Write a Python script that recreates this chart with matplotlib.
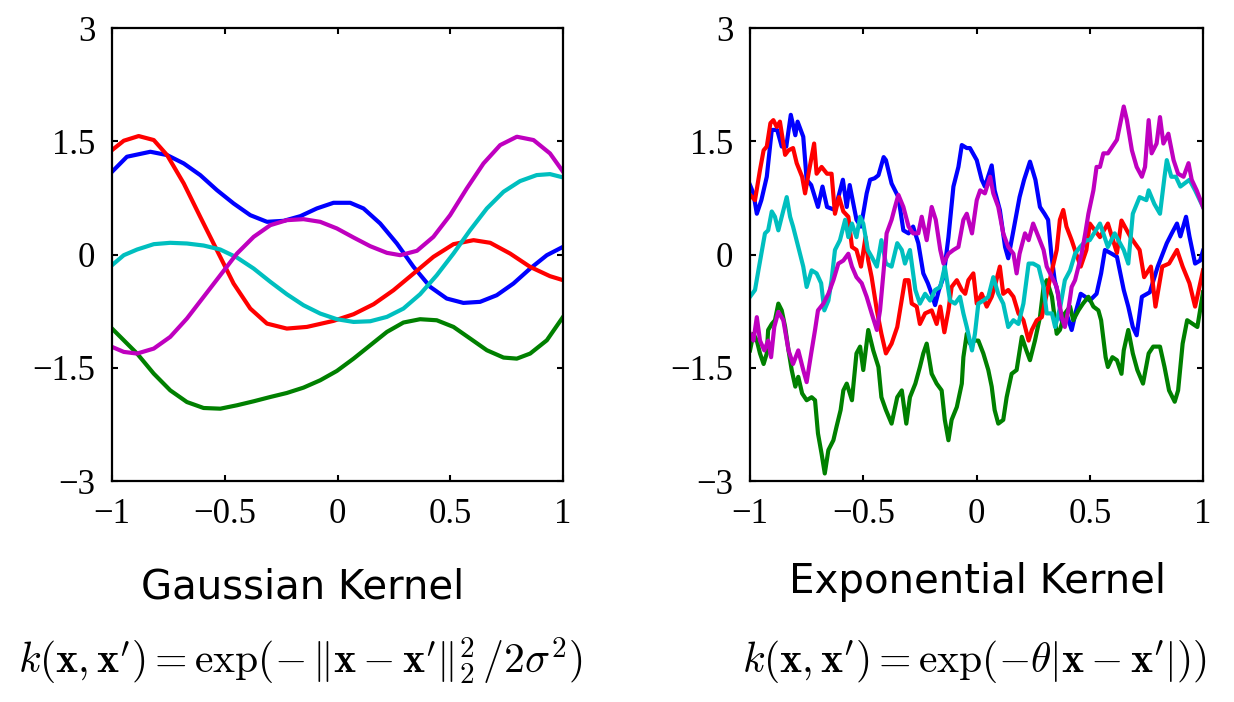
import numpy as np
import matplotlib.pyplot as plt

plt.rcParams['mathtext.fontset'] = 'cm'

# ---- Gaussian kernel samples (left panel) ----
g_red_x = [-1.0, -0.948, -0.882, -0.815, -0.756, -0.682, -0.609, -0.535, -0.461, -0.387, -0.313, -0.225,
           -0.136, -0.018, 0.071, 0.160, 0.248, 0.337, 0.425, 0.514, 0.603, 0.677, 0.765, 0.854, 0.942, 1.0]
g_red_y = [1.383, 1.507, 1.569, 1.516, 1.317, 0.941, 0.499, 0.057, -0.385, -0.716, -0.915, -0.981,
           -0.959, -0.879, -0.791, -0.658, -0.473, -0.252, -0.031, 0.137, 0.190, 0.155, 0.013, -0.164, -0.287, -0.340]

g_blue_x = [-1.0, -0.934, -0.830, -0.756, -0.682, -0.609, -0.535, -0.461, -0.387, -0.313, -0.239, -0.165, -0.092, -0.018,
            0.056, 0.115, 0.189, 0.263, 0.337, 0.411, 0.484, 0.558, 0.632, 0.706, 0.780, 0.854, 0.928, 1.0]
g_blue_y = [1.096, 1.295, 1.361, 1.317, 1.206, 1.052, 0.853, 0.676, 0.521, 0.433, 0.446, 0.508, 0.610, 0.685,
            0.685, 0.610, 0.411, 0.146, -0.164, -0.429, -0.583, -0.641, -0.627, -0.539, -0.384, -0.186, -0.009, 0.102]

g_cyan_x = [-1.0, -0.948, -0.889, -0.815, -0.742, -0.668, -0.594, -0.520, -0.446, -0.372, -0.298, -0.225, -0.151, -0.077,
            -0.003, 0.071, 0.145, 0.219, 0.292, 0.366, 0.440, 0.514, 0.588, 0.662, 0.736, 0.809, 0.883, 0.942, 1.0]
g_cyan_y = [-0.141, -0.009, 0.066, 0.137, 0.155, 0.146, 0.119, 0.066, -0.040, -0.186, -0.362, -0.526, -0.672, -0.782,
            -0.857, -0.893, -0.884, -0.826, -0.716, -0.526, -0.274, 0.013, 0.323, 0.610, 0.831, 0.972, 1.052, 1.065, 1.021]

g_mag_x = [-1.0, -0.948, -0.889, -0.815, -0.742, -0.668, -0.594, -0.520, -0.446, -0.372, -0.298, -0.225, -0.151, -0.077,
           -0.003, 0.071, 0.145, 0.219, 0.278, 0.352, 0.425, 0.499, 0.573, 0.647, 0.721, 0.795, 0.869, 0.942, 1.0]
g_mag_y = [-1.224, -1.290, -1.312, -1.246, -1.091, -0.848, -0.561, -0.274, 0.013, 0.234, 0.389, 0.455, 0.468, 0.433,
           0.345, 0.225, 0.110, 0.022, -0.009, 0.049, 0.234, 0.521, 0.875, 1.206, 1.449, 1.560, 1.516, 1.339, 1.096]

g_green_x = [-1.0, -0.948, -0.889, -0.815, -0.742, -0.668, -0.594, -0.520, -0.446, -0.372, -0.298, -0.225, -0.151, -0.077,
             -0.003, 0.071, 0.145, 0.219, 0.292, 0.366, 0.440, 0.514, 0.588, 0.662, 0.736, 0.795, 0.854, 0.928, 1.0]
g_green_y = [-0.981, -1.136, -1.312, -1.578, -1.799, -1.954, -2.033, -2.042, -1.997, -1.944, -1.887, -1.834, -1.763, -1.666,
             -1.542, -1.379, -1.202, -1.025, -0.901, -0.857, -0.871, -0.959, -1.113, -1.268, -1.365, -1.379, -1.312, -1.136, -0.826]

# ---- Exponential kernel samples (right panel) ----
e_blue_x = [-1, -0.985, -0.97, -0.95, -0.926, -0.904, -0.88, -0.86, -0.84, -0.82, -0.80, -0.79, -0.765, -0.75, -0.73,
            -0.70, -0.68, -0.66, -0.625, -0.59, -0.573, -0.56, -0.53, -0.51, -0.485, -0.47, -0.45, -0.433, -0.41, -0.40,
            -0.375, -0.345, -0.323, -0.30, -0.28, -0.257, -0.235, -0.215, -0.198, -0.183, -0.166, -0.146, -0.124, -0.102,
            -0.08, -0.065, -0.043, -0.029, 0.001, 0.023, 0.037, 0.067, 0.08, 0.103, 0.126, 0.14, 0.163, 0.19, 0.21, 0.236,
            0.26, 0.28, 0.30, 0.316, 0.33, 0.345, 0.36, 0.375, 0.397, 0.42, 0.44, 0.46, 0.48, 0.50, 0.53, 0.55, 0.567,
            0.597, 0.62, 0.65, 0.67, 0.69, 0.707, 0.73, 0.765, 0.80, 0.84, 0.862, 0.885, 0.90, 0.925, 0.94, 0.965, 0.987, 1.0]
e_blue_y = [0.92, 0.81, 0.54, 0.72, 1.03, 1.65, 1.65, 1.43, 1.43, 1.85, 1.58, 1.76, 1.56, 0.99, 0.92,
            0.63, 0.90, 0.63, 0.59, 0.99, 0.63, 0.92, 0.46, 0.37, 0.81, 0.99, 1.01, 1.05, 1.29, 1.25,
            0.94, 0.76, 0.32, 0.28, 0.37, 0.15, -0.25, -0.38, -0.52, -0.67, -0.47, -0.30, 0.23, 0.90,
            1.16, 1.45, 1.41, 1.41, 1.25, 0.99, 0.90, 1.18, 0.85, 0.59, 0.10, -0.05, 0.32, 0.76, 0.99, 1.23,
            0.99, 0.63, 0.54, 0.46, 0.01, -0.34, -0.52, -0.87, -0.78, -1.0, -0.74, -0.52, -0.56, -0.61, -0.52, -0.25, 0.06,
            0.01, -0.03, -0.47, -0.69, -0.96, -1.07, -0.56, -0.50, -0.16, 0.15, 0.28, 0.41, 0.24, 0.50, 0.24, -0.12, -0.08, 0.05]

e_red_x = [-1, -0.978, -0.956, -0.94, -0.926, -0.91, -0.897, -0.882, -0.868, -0.845, -0.83, -0.81, -0.794, -0.77, -0.757,
           -0.74, -0.717, -0.706, -0.684, -0.66, -0.64, -0.625, -0.607, -0.588, -0.566, -0.55, -0.53, -0.51, -0.49, -0.478,
           -0.463, -0.44, -0.42, -0.40, -0.375, -0.35, -0.333, -0.316, -0.30, -0.286, -0.264, -0.25, -0.227, -0.198, -0.176,
           -0.16, -0.142, -0.124, -0.11, -0.087, -0.065, -0.05, -0.036, -0.014, 0.001, 0.023, 0.045, 0.067, 0.08, 0.103,
           0.118, 0.14, 0.163, 0.185, 0.207, 0.23, 0.244, 0.266, 0.288, 0.31, 0.33, 0.354, 0.368, 0.383, 0.397, 0.42, 0.44,
           0.46, 0.485, 0.50, 0.545, 0.58, 0.62, 0.64, 0.68, 0.72, 0.74, 0.77, 0.79, 0.82, 0.85, 0.885, 0.91, 0.94, 0.965, 1.0]
e_red_y = [0.79, 0.72, 1.12, 1.38, 1.43, 1.74, 1.78, 1.69, 1.76, 1.32, 1.38, 1.41, 1.21, 1.03, 0.81,
           1.10, 1.47, 1.07, 1.16, 1.07, 1.07, 0.54, 0.76, 0.57, 0.50, 0.10, 0.06, -0.16, 0.23, -0.08,
           -0.30, -0.74, -1.05, -1.31, -1.18, -0.96, -0.65, -0.34, -0.34, -0.65, -0.69, -0.92, -0.78, -0.74, -0.92,
           -0.69, -1.03, -0.74, -0.43, -0.34, -0.47, -0.52, -0.34, -0.25, -0.65, -0.52, -0.69, -0.56, -0.43, -0.16,
           -0.52, -0.47, -0.56, -0.78, -0.87, -1.14, -1.0, -0.87, -0.83, -0.52, -0.25, 0.06, 0.46, 0.59, 0.37, 0.19, 0.01,
           -0.16, 0.06, 0.41, 0.23, 0.41, 0.02, 0.45, 0.23, 0.06, -0.30, -0.16, -0.69, -0.16, -0.12, 0.06, -0.16, -0.38, -0.69, -0.21]

e_cyan_x = [-1, -0.978, -0.963, -0.95, -0.934, -0.92, -0.904, -0.89, -0.875, -0.86, -0.838, -0.823, -0.81, -0.787, -0.765,
            -0.75, -0.728, -0.706, -0.686, -0.672, -0.654, -0.64, -0.625, -0.603, -0.58, -0.566, -0.55, -0.53, -0.514, -0.50,
            -0.48, -0.463, -0.44, -0.42, -0.40, -0.375, -0.35, -0.33, -0.316, -0.294, -0.27, -0.25, -0.227, -0.205, -0.183,
            -0.16, -0.14, -0.117, -0.095, -0.073, -0.058, -0.043, -0.02, -0.007, 0.008, 0.03, 0.052, 0.074, 0.096, 0.118,
            0.14, 0.163, 0.185, 0.207, 0.23, 0.25, 0.274, 0.296, 0.31, 0.333, 0.347, 0.37, 0.39, 0.413, 0.435, 0.457, 0.485,
            0.50, 0.545, 0.58, 0.61, 0.65, 0.67, 0.69, 0.72, 0.75, 0.76, 0.785, 0.81, 0.83, 0.84, 0.86, 0.88, 0.90, 0.94, 0.965, 1.0]
e_cyan_y = [-0.56, -0.47, -0.21, 0.01, 0.28, 0.32, 0.57, 0.50, 0.32, 0.50, 0.76, 0.50, 0.37, 0.10, -0.16,
            -0.43, -0.21, -0.25, -0.38, -0.74, -0.61, -0.34, 0.06, 0.19, 0.46, 0.23, 0.41, 0.23, 0.50, 0.41,
            0.06, -0.03, -0.16, 0.19, -0.12, -0.16, 0.15, 0.06, -0.12, 0.06, -0.47, -0.65, -0.52, -0.61, -0.47,
            -0.43, -0.16, -0.61, -0.65, -0.56, -0.78, -0.96, -1.27, -1.05, -0.65, -0.61, -0.56, -0.30, -0.52, -0.65,
            -0.96, -0.87, -0.92, -0.65, -0.12, -0.12, -0.16, -0.43, -0.78, -0.78, -0.96, -0.69, -0.34, -0.21, 0.01, 0.10, 0.19,
            0.19, 0.41, 0.10, 0.28, 0.06, -0.12, 0.54, 0.76, 0.72, 0.85, 0.67, 0.54, 1.03, 1.25, 1.03, 1.03, 0.90, 0.99, 0.85, 0.63]

e_mag_x = [-1, -0.985, -0.97, -0.956, -0.937, -0.92, -0.907, -0.893, -0.875, -0.853, -0.83, -0.81, -0.787, -0.765, -0.75,
           -0.73, -0.713, -0.70, -0.676, -0.654, -0.632, -0.61, -0.588, -0.566, -0.55, -0.53, -0.507, -0.485, -0.463, -0.44,
           -0.426, -0.41, -0.397, -0.375, -0.36, -0.345, -0.323, -0.30, -0.28, -0.257, -0.242, -0.22, -0.198, -0.18, -0.16,
           -0.146, -0.124, -0.102, -0.08, -0.058, -0.043, -0.02, 0.001, 0.016, 0.037, 0.06, 0.074, 0.096, 0.118, 0.14,
           0.163, 0.177, 0.19, 0.214, 0.23, 0.25, 0.274, 0.296, 0.31, 0.333, 0.354, 0.376, 0.39, 0.405, 0.42, 0.435, 0.45,
           0.464, 0.48, 0.494, 0.516, 0.53, 0.545, 0.56, 0.58, 0.60, 0.62, 0.635, 0.65, 0.664, 0.686, 0.707, 0.73, 0.744,
           0.76, 0.773, 0.795, 0.81, 0.825, 0.847, 0.87, 0.89, 0.914, 0.936, 0.95, 0.972, 1.0]
e_mag_y = [-1.05, -1.14, -0.83, -1.14, -1.27, -1.14, -1.36, -0.96, -0.76, -0.87, -1.27, -1.45, -1.27, -1.53, -1.69,
           -1.31, -1.0, -0.74, -0.65, -0.52, -0.34, -0.12, -0.08, 0.01, -0.16, -0.30, -0.38, -0.56, -0.78, -1.0,
           -0.74, -0.21, 0.28, 0.46, 0.63, 0.79, 0.63, 0.37, 0.28, 0.28, 0.50, 0.19, 0.63, 0.46, 0.06,
           -0.12, 0.01, 0.06, 0.10, 0.46, 0.54, 0.28, 0.72, 0.85, 0.81, 1.03, 0.81, 0.63, 0.28, 0.10,
           0.01, -0.25, 0.01, 0.28, 0.19, 0.41, 0.23, 0.06, -0.16, -0.30, -0.43, -0.83, -0.96, -0.74, -0.43, -0.34, -0.16,
           0.01, 0.28, 0.54, 0.85, 1.16, 1.16, 1.34, 1.34, 1.43, 1.52, 1.74, 1.96, 1.78, 1.38, 1.16, 1.03, 1.16,
           1.78, 1.34, 1.47, 1.82, 1.47, 1.60, 1.25, 1.07, 1.03, 1.21, 0.99, 0.85, 0.63]

e_green_x = [-1, -0.985, -0.97, -0.956, -0.94, -0.926, -0.92, -0.904, -0.89, -0.875, -0.86, -0.845, -0.83, -0.816, -0.80,
             -0.787, -0.77, -0.75, -0.728, -0.713, -0.70, -0.684, -0.67, -0.654, -0.632, -0.618, -0.60, -0.588, -0.573, -0.55,
             -0.53, -0.514, -0.50, -0.478, -0.456, -0.433, -0.42, -0.40, -0.375, -0.35, -0.33, -0.31, -0.294, -0.27, -0.25,
             -0.235, -0.22, -0.198, -0.176, -0.154, -0.14, -0.124, -0.11, -0.087, -0.065, -0.058, -0.043, -0.029, -0.007,
             0.008, 0.03, 0.052, 0.067, 0.08, 0.096, 0.118, 0.133, 0.155, 0.177, 0.2, 0.22, 0.236, 0.258, 0.28, 0.296, 0.31,
             0.333, 0.354, 0.368, 0.39, 0.413, 0.427, 0.45, 0.47, 0.494, 0.516, 0.538, 0.55, 0.57, 0.58, 0.60, 0.62, 0.64,
             0.65, 0.67, 0.69, 0.71, 0.735, 0.76, 0.78, 0.81, 0.83, 0.85, 0.875, 0.89, 0.91, 0.93, 0.955, 0.975, 1.0]
e_green_y = [-1.27, -1.05, -1.14, -1.31, -1.45, -1.31, -1.0, -0.92, -0.87, -0.65, -0.74, -0.96, -1.27, -1.53, -1.75,
             -1.62, -1.84, -1.93, -1.89, -1.93, -2.37, -2.64, -2.90, -2.59, -2.46, -2.28, -2.06, -1.80, -1.71, -1.93,
             -1.31, -1.22, -1.53, -1.0, -1.27, -1.49, -1.89, -2.06, -2.24, -1.89, -1.80, -2.24, -1.89, -1.71, -1.49,
             -1.31, -1.18, -1.58, -1.71, -1.80, -2.19, -2.46, -2.19, -2.02, -1.71, -1.36, -1.05, -1.18, -1.14,
             -1.14, -1.31, -1.53, -1.75, -2.06, -2.24, -2.19, -1.89, -1.58, -1.53, -1.09, -1.27, -1.40, -1.14, -0.83, -0.43, -0.34,
             -0.56, -1.05, -1.0, -0.78, -0.69, -0.87, -0.74, -0.65, -0.56, -0.69, -0.74, -0.87, -1.36, -1.49, -1.36, -1.40, -1.58,
             -1.27, -1.0, -1.31, -1.53, -1.71, -1.31, -1.22, -1.22, -1.49, -1.80, -1.95, -1.80, -1.18, -0.87, -0.92, -0.96, -0.50]

BLUE = (0, 0, 1)
GREEN = (0, 0.5, 0)
RED = (1, 0, 0)
CYAN = (0, 0.75, 0.75)
MAGENTA = (0.75, 0, 0.75)

fig = plt.figure(figsize=(12.34, 7.02), dpi=100)
ax1 = fig.add_axes([0.0908, 0.3148, 0.3655, 0.6453])
ax2 = fig.add_axes([0.6078, 0.3148, 0.3671, 0.6453])

lw = 3.0
ax1.plot(g_blue_x, g_blue_y, color=BLUE, lw=lw, solid_joinstyle='round')
ax1.plot(g_green_x, g_green_y, color=GREEN, lw=lw, solid_joinstyle='round')
ax1.plot(g_red_x, g_red_y, color=RED, lw=lw, solid_joinstyle='round')
ax1.plot(g_cyan_x, g_cyan_y, color=CYAN, lw=lw, solid_joinstyle='round')
ax1.plot(g_mag_x, g_mag_y, color=MAGENTA, lw=lw, solid_joinstyle='round')

ax2.plot(e_blue_x, e_blue_y, color=BLUE, lw=lw)
ax2.plot(e_green_x, e_green_y, color=GREEN, lw=lw)
ax2.plot(e_red_x, e_red_y, color=RED, lw=lw)
ax2.plot(e_cyan_x, e_cyan_y, color=CYAN, lw=lw)
ax2.plot(e_mag_x, e_mag_y, color=MAGENTA, lw=lw)

for ax in (ax1, ax2):
    ax.set_xlim(-1, 1)
    ax.set_ylim(-3, 3)
    ax.set_xticks([-1, -0.5, 0, 0.5, 1])
    ax.set_xticklabels(['\u22121', '\u22120.5', '0', '0.5', '1'])
    ax.set_yticks([-3, -1.5, 0, 1.5, 3])
    ax.set_yticklabels(['\u22123', '\u22121.5', '0', '1.5', '3'])
    ax.tick_params(direction='in', top=True, right=True, length=4, width=1.5,
                   labelsize=25, colors='black')
    ax.tick_params(axis='x', pad=12)
    ax.tick_params(axis='y', pad=12)
    for lab in ax.get_xticklabels() + ax.get_yticklabels():
        lab.set_fontfamily('Liberation Serif')
    for sp in ax.spines.values():
        sp.set_linewidth(1.6)

fig.text(0.2455, 0.148, 'Gaussian Kernel', ha='center', va='baseline',
         fontsize=29, family='DejaVu Sans')
fig.text(0.243, 0.041,
         r"$k(\mathbf{x},\mathbf{x}^{\prime}) = \exp(-\,\Vert\mathbf{x}-\mathbf{x}^{\prime}\Vert_2^2\,/2\sigma^2)$",
         ha='center', va='baseline', fontsize=30)

fig.text(0.792, 0.155, 'Exponential Kernel', ha='center', va='baseline',
         fontsize=29, family='DejaVu Sans')
fig.text(0.790, 0.041,
         r"$k(\mathbf{x},\mathbf{x}^{\prime}) = \exp(-\theta|\mathbf{x}-\mathbf{x}^{\prime}|))$",
         ha='center', va='baseline', fontsize=30)

fig.savefig('out.png', dpi=100)
